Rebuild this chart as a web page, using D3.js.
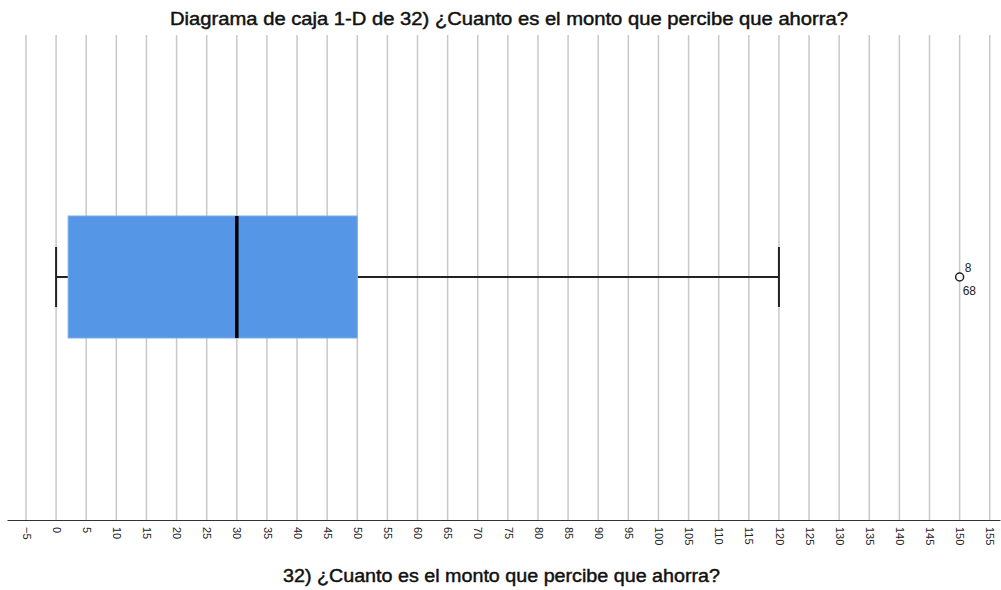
<!DOCTYPE html>
<html>
<head>
<meta charset="utf-8">
<script src="https://cdn.jsdelivr.net/npm/d3@7"></script>
<style>
  body { margin: 0; background: #fff; }
  text { font-family: "Liberation Sans", Arial, sans-serif; }
</style>
</head>
<body>
<div id="chart"></div>
<script>
// chart text
var chartTitle = "Diagrama de caja 1-D de 32) ¿Cuanto es el monto que percibe que ahorra?";
var axisTitle = "32) ¿Cuanto es el monto que percibe que ahorra?";

// box statistics
var statNames = ["min", "q1", "median", "q3", "max"];
var statValues = [0, 2, 30, 50, 120];

// outliers
var outlierValues = [150];
var outlierLabels = [["8", "68"]];

// ticks
var tickValues = d3.range(-5, 160, 5);

var width = 1001, height = 590;
var margin = {top: 35, right: 1, bottom: 70, left: 7};

var svg = d3.select("#chart").append("svg")
  .attr("width", width)
  .attr("height", height);

var x = d3.scaleLinear()
  .domain([-8.15, 156.7])
  .range([margin.left, width - margin.right]);

var axisY = height - margin.bottom;

var stats = {};
statNames.forEach(function(n, i) { stats[n] = statValues[i]; });

// gridlines
svg.append("g")
  .selectAll("line")
  .data(tickValues)
  .join("line")
  .attr("x1", function(d) { return x(d); })
  .attr("x2", function(d) { return x(d); })
  .attr("y1", margin.top)
  .attr("y2", axisY)
  .attr("stroke", "#c8c8c8")
  .attr("stroke-width", 1.5);

// axis
var xAxis = d3.axisBottom(x)
  .tickValues(tickValues)
  .tickSize(0)
  .tickPadding(0);

var gx = svg.append("g")
  .attr("transform", "translate(0," + axisY + ")")
  .call(xAxis);
gx.select(".domain").attr("stroke", "#333").attr("stroke-width", 1.2);
gx.selectAll("text")
  .attr("transform", "rotate(90)")
  .attr("x", 7)
  .attr("y", 0)
  .attr("dy", "0.35em")
  .style("text-anchor", "start")
  .style("font-size", "11px")
  .style("font-family", "Liberation Sans, Arial, sans-serif")
  .attr("fill", "#222");

// box
var cy = 277, boxH = 122, capH = 60;

svg.append("line")
  .attr("x1", x(stats.min)).attr("x2", x(stats.q1))
  .attr("y1", cy).attr("y2", cy)
  .attr("stroke", "#222").attr("stroke-width", 2);
svg.append("line")
  .attr("x1", x(stats.q3)).attr("x2", x(stats.max))
  .attr("y1", cy).attr("y2", cy)
  .attr("stroke", "#222").attr("stroke-width", 2);

svg.selectAll(".cap")
  .data([stats.min, stats.max])
  .join("line")
  .attr("class", "cap")
  .attr("x1", function(d) { return x(d); })
  .attr("x2", function(d) { return x(d); })
  .attr("y1", cy - capH / 2)
  .attr("y2", cy + capH / 2)
  .attr("stroke", "#222").attr("stroke-width", 2);

svg.append("rect")
  .attr("x", x(stats.q1))
  .attr("y", cy - boxH / 2)
  .attr("width", x(stats.q3) - x(stats.q1))
  .attr("height", boxH)
  .attr("fill", "#5596e6")
  .attr("stroke", "#7aaeea")
  .attr("stroke-width", 1);

svg.append("line")
  .attr("x1", x(stats.median)).attr("x2", x(stats.median))
  .attr("y1", cy - boxH / 2).attr("y2", cy + boxH / 2)
  .attr("stroke", "#000").attr("stroke-width", 3.5);

// outliers
var og = svg.selectAll(".outlier")
  .data(outlierValues)
  .join("g")
  .attr("class", "outlier");
og.append("circle")
  .attr("cx", function(d) { return x(d); })
  .attr("cy", cy)
  .attr("r", 4)
  .attr("fill", "#fff")
  .attr("stroke", "#222")
  .attr("stroke-width", 1.5);
og.append("text")
  .attr("x", function(d) { return x(d) + 5; })
  .attr("y", cy - 5)
  .style("font-size", "12px")
  .attr("fill", "#222")
  .text(function(d, i) { return outlierLabels[i][0]; });
og.append("text")
  .attr("x", function(d) { return x(d) + 3; })
  .attr("y", cy + 18)
  .style("font-size", "12px")
  .attr("fill", "#222")
  .text(function(d, i) { return outlierLabels[i][1]; });

// titles
svg.append("text")
  .attr("x", 170)
  .attr("y", 25)
  .attr("textLength", 678)
  .attr("lengthAdjust", "spacingAndGlyphs")
  .style("font-size", "17.5px")
  .attr("fill", "#111")
  .attr("stroke", "#111")
  .attr("stroke-width", 0.45)
  .text(chartTitle);

svg.append("text")
  .attr("x", 283)
  .attr("y", 582)
  .attr("textLength", 437)
  .attr("lengthAdjust", "spacingAndGlyphs")
  .style("font-size", "18px")
  .attr("fill", "#111")
  .attr("stroke", "#111")
  .attr("stroke-width", 0.45)
  .text(axisTitle);
</script>
</body>
</html>
